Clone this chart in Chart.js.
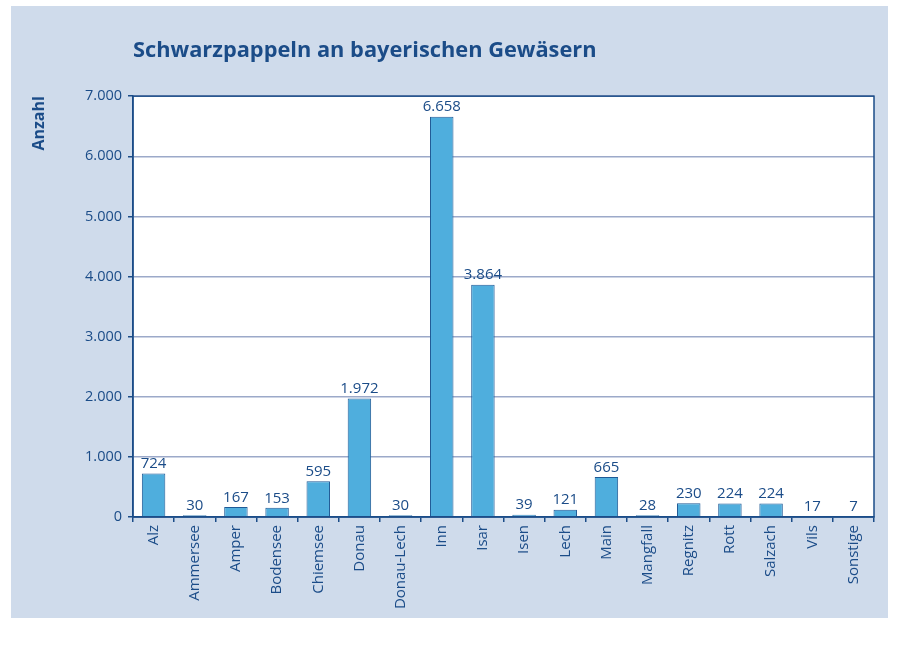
<!DOCTYPE html>
<html>
<head>
<meta charset="utf-8">
<script src="https://cdn.jsdelivr.net/npm/chart.js@4.4.1/dist/chart.umd.min.js"></script>
<style>
  html, body { margin: 0; padding: 0; background: #ffffff; }
  #wrap { width: 900px; height: 646px; }
</style>
</head>
<body>
<div id="wrap"><canvas id="chart" width="900" height="646"></canvas></div>
<script>
// Schwarzpappeln an bayerischen Gewässern
var categories = ["Alz", "Ammersee", "Amper", "Bodensee", "Chiemsee", "Donau", "Donau-Lech", "Inn", "Isar", "Isen",
                  "Lech", "Main", "Mangfall", "Regnitz", "Rott", "Salzach", "Vils", "Sonstige"];
var counts = [724, 30, 167, 153, 595, 1972, 30, 6658, 3864, 39, 121, 665, 28, 230, 224, 224, 17, 7];
var yTicks = [0, 1000, 2000, 3000, 4000, 5000, 6000, 7000];

var dark = "#1b4c88";
var fontFam = "'Open Sans', 'Noto Sans', sans-serif";

function fmt(v) {
  return v.toString().replace(/\B(?=(\d{3})+(?!\d))/g, ".");
}

// light blue panel + white plot area + frame
var panel = {
  id: 'panel',
  beforeDraw: function(chart) {
    var c = chart.ctx, a = chart.chartArea;
    c.save();
    c.fillStyle = "#cfdbeb";
    c.fillRect(11, 6, 877, 612);
    c.fillStyle = "#ffffff";
    c.fillRect(a.left, a.top, a.right - a.left, a.bottom - a.top);
    c.restore();
  },
  afterDraw: function(chart) {
    var c = chart.ctx, a = chart.chartArea;
    c.save();
    c.strokeStyle = dark;
    c.lineWidth = 1.5;
    c.strokeRect(a.left, a.top, a.right - a.left, a.bottom - a.top);
    c.restore();
  }
};

// value labels above the bars
var valueLabels = {
  id: 'valueLabels',
  afterDatasetsDraw: function(chart) {
    var c = chart.ctx;
    var meta = chart.getDatasetMeta(0);
    c.save();
    c.fillStyle = dark;
    c.font = "15px " + fontFam;
    c.textAlign = "center";
    c.textBaseline = "bottom";
    meta.data.forEach(function(bar, i) {
      c.fillText(fmt(counts[i]), bar.x, bar.y - 2);
    });
    c.restore();
  }
};

new Chart(document.getElementById("chart"), {
  type: 'bar',
  data: {
    labels: categories,
    datasets: [{
      label: "Anzahl",
      data: counts,
      backgroundColor: "#4faedd",
      borderColor: "#1f5a96",
      borderWidth: 1,
      categoryPercentage: 1,
      barPercentage: 0.57
    }]
  },
  options: {
    responsive: false,
    animation: false,
    layout: { padding: { left: 30, right: 26, top: 38, bottom: 29 } },
    plugins: {
      legend: { display: false },
      tooltip: { enabled: false },
      title: {
        display: true,
        text: "Schwarzpappeln an bayerischen Gewäsern",
        align: 'start',
        fullSize: false,
        color: dark,
        font: { family: fontFam, size: 21.8, weight: 'bold', lineHeight: 1.2 },
        padding: { top: 0, bottom: 32 }
      }
    },
    scales: {
      x: {
        grid: { display: true, drawOnChartArea: false, drawTicks: true, tickLength: 5, color: dark, lineWidth: 1.5, offset: true },
        border: { display: true, color: dark, width: 1.5 },
        ticks: { color: dark, font: { family: fontFam, size: 15 }, minRotation: 90, maxRotation: 90, padding: 3, autoSkip: false },
        afterFit: function(s) { s.height = 100; }
      },
      y: {
        min: 0,
        max: 7000,
        afterBuildTicks: function(s) { s.ticks = yTicks.map(function(v) { return { value: v }; }); },
        grid: { color: "#9ca9c9", lineWidth: 1.5, tickLength: 5, tickColor: dark },
        border: { display: true, color: dark, width: 1.5 },
        ticks: { color: dark, font: { family: fontFam, size: 14.5 }, padding: 6, callback: function(v) { return fmt(v); } },
        title: { display: true, text: "Anzahl", align: 'end', color: dark, font: { family: fontFam, size: 16, weight: 'bold' }, padding: { top: 0, bottom: 0 } },
        afterFit: function(s) { s.width = 103; }
      }
    }
  },
  plugins: [panel, valueLabels]
});
</script>
</body>
</html>
